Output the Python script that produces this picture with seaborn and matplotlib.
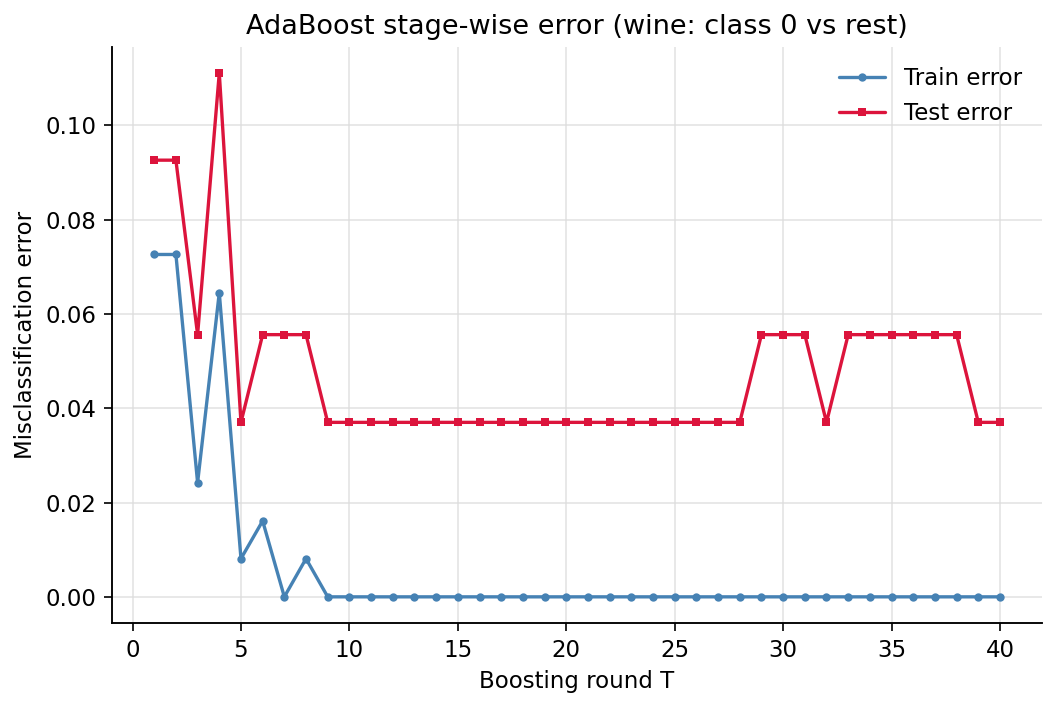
import numpy as np
import pandas as pd
import matplotlib
matplotlib.use("Agg")
import matplotlib.pyplot as plt
import seaborn as sns

rounds = list(range(1, 41))
train_error = [0.0726, 0.0726, 0.0242, 0.0645, 0.0081, 0.0161, 0.0, 0.0081] + [0.0] * 32
test_error = ([0.0926, 0.0926, 0.0556, 0.1111, 0.0370, 0.0556, 0.0556, 0.0556]
              + [0.0370] * 20 + [0.0556] * 3 + [0.0370] + [0.0556] * 6 + [0.0370] * 2)

sns.set_style("white")
plt.rcParams['font.family'] = ['DejaVu Sans']
plt.rcParams['text.color'] = 'black'
plt.rcParams['axes.labelcolor'] = 'black'
plt.rcParams['xtick.color'] = 'black'
plt.rcParams['ytick.color'] = 'black'

fig, ax = plt.subplots(figsize=(7.04, 4.72), dpi=150)
df_train = pd.DataFrame({"T": rounds, "err": train_error})
df_test = pd.DataFrame({"T": rounds, "err": test_error})
sns.lineplot(data=df_train, x="T", y="err", ax=ax, color="steelblue", marker="o",
             markersize=4, markeredgewidth=0, linewidth=1.6, label="Train error")
sns.lineplot(data=df_test, x="T", y="err", ax=ax, color="crimson", marker="s",
             markersize=4, markeredgewidth=0, linewidth=1.6, label="Test error")

ax.set_title("AdaBoost stage-wise error (wine: class 0 vs rest)", fontsize=13, color="black")
ax.set_xlabel("Boosting round T", fontsize=11)
ax.set_ylabel("Misclassification error", fontsize=11)
ax.grid(True, color="#dddddd", linewidth=0.8, alpha=0.8)
ax.set_xticks([0, 5, 10, 15, 20, 25, 30, 35, 40])
ax.set_yticks([0.0, 0.02, 0.04, 0.06, 0.08, 0.10])
ax.tick_params(labelsize=11, length=4, left=True, bottom=True, colors="black")
for s in ["top", "right"]:
    ax.spines[s].set_visible(False)
for s in ["left", "bottom"]:
    ax.spines[s].set_color("black")
    ax.spines[s].set_linewidth(0.9)
ax.legend(frameon=False, fontsize=11, loc="upper right")
fig.subplots_adjust(left=0.106, right=0.987, top=0.934, bottom=0.12)
fig.savefig("out.png", dpi=150)
